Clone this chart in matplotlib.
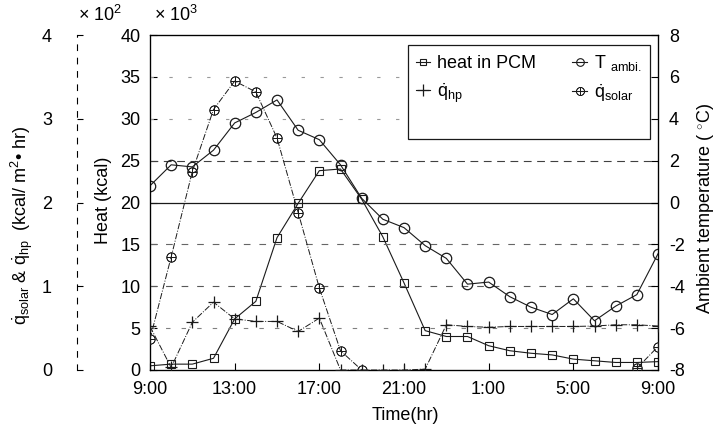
import numpy as np
import matplotlib
matplotlib.use('Agg')
import matplotlib.pyplot as plt
from matplotlib.lines import Line2D

plt.rcParams['font.family'] = ['Liberation Sans', 'DejaVu Sans']
plt.rcParams['mathtext.fontset'] = 'custom'
plt.rcParams['mathtext.rm'] = 'Liberation Sans'
plt.rcParams['mathtext.it'] = 'Liberation Sans:italic'
plt.rcParams['axes.unicode_minus'] = False
plt.rcParams['font.size'] = 13

#%% data, hourly from 9:00 to 9:00 the next day
clock = [9, 10, 11, 12, 13, 14, 15, 16, 17, 18, 19, 20, 21, 22, 23,
         0, 1, 2, 3, 4, 5, 6, 7, 8, 9]
elapsed = [(c - 9) % 24 for c in clock]
elapsed[-1] = 24

# ambient temperature (C)
t_ambi = [0.8, 1.8, 1.7, 2.5, 3.8, 4.3, 4.9, 3.45, 3.0, 1.8, 0.2, -0.8, -1.2,
          -2.06, -2.67, -3.9, -3.8, -4.5, -5.0, -5.35, -4.6, -5.65, -4.95, -4.4, -2.45]
# heat in PCM (x 10^3 kcal)
heat_pcm = [0.5, 0.7, 0.7, 1.4, 6.1, 8.2, 15.8, 19.9, 23.8, 24.0, 20.4, 15.9, 10.4,
            4.7, 4.0, 4.0, 2.9, 2.3, 2.0, 1.8, 1.3, 1.1, 0.9, 0.9, 1.0]
# heat pump heat rate (x 10^2 kcal/m2 hr)
q_hp = [0.52, 0.03, 0.57, 0.81, 0.61, 0.58, 0.58, 0.46, 0.62, 0.0, 0.0, 0.0, 0.0,
        0.01, 0.54, 0.52, 0.51, 0.52, 0.52, 0.52, 0.52, 0.525, 0.54, 0.54, 0.525]
# solar heat rate (x 10^2 kcal/m2 hr), none at night
q_solar = [0.37, 1.35, 2.37, 3.11, 3.45, 3.32, 2.77, 1.88, 0.98, 0.23, 0.0, np.nan, np.nan,
           np.nan, np.nan, np.nan, np.nan, np.nan, np.nan, np.nan, np.nan, np.nan, np.nan, 0.02, 0.28]

xtick_pos = [0, 4, 8, 12, 16, 20, 24]
xtick_lab = ['9:00', '13:00', '17:00', '21:00', '1:00', '5:00', '9:00']

#%% figure
fig = plt.figure(figsize=(7.19, 4.38), dpi=100)
ax = fig.add_axes([150/719, 1-370/438, 508/719, 335/438])
ax_r = ax.twinx()
ax_q = ax.twinx()

k = '0.1'
ax.set_xlim(0, 24)
ax.set_ylim(0, 40)
ax_r.set_ylim(-8, 8)
ax_q.set_ylim(0, 4)

# grid lines on temperature scale
for tv, ls, c in [(6, (0, (3, 14)), '0.6'), (4, (0, (3, 14)), '0.6'), (2, (0, (7, 5)), '0.25'),
                  (-2, (0, (6, 8)), '0.4'), (-4, (0, (6, 8)), '0.35'), (-6, (0, (4, 10)), '0.5')]:
    ax_r.axhline(tv, color=c, lw=0.8, ls=ls, zorder=1)
ax_r.axhline(0, color=k, lw=0.9, zorder=1)

ax.plot(elapsed, heat_pcm, color=k, lw=0.8, marker='s', ms=6, mfc='none', mec=k, mew=0.8)
ax_r.plot(elapsed, t_ambi, color=k, lw=0.8, marker='o', ms=7.5, mfc='none', mec=k, mew=0.9)
ax_q.plot(elapsed, q_hp, color=k, lw=0.7, ls='-.', marker='+', ms=9, mew=0.9)
ax_q.plot(elapsed, q_solar, color=k, lw=0.7, ls='-.', marker=r'$\oplus$', ms=7, mew=0.4)

# axes styling
ax.set_xticks(xtick_pos)
ax.set_xticklabels(xtick_lab)
ax.set_yticks(np.arange(0, 41, 5))
ax.tick_params(axis='both', direction='in', length=5, width=0.8, pad=7)
ax.tick_params(axis='x', pad=8)
ax_r.set_yticks(np.arange(-8, 9, 2))
ax_r.tick_params(axis='y', direction='in', length=5, width=0.8, pad=8)
for sp in ax.spines.values():
    sp.set_linewidth(0.9)

ax_q.yaxis.set_ticks_position('left')
ax_q.yaxis.set_label_position('left')
ax_q.spines['left'].set_position(('axes', -73/508))
ax_q.spines['left'].set_linestyle((0, (5, 7)))
ax_q.spines['left'].set_linewidth(0.8)
for s in ['right', 'top', 'bottom']:
    ax_q.spines[s].set_visible(False)
ax_q.set_yticks([0, 1, 2, 3, 4])
ax_q.tick_params(axis='y', direction='in', length=4, width=0.8, pad=18)

# labels
fig.text(405/719, 1-416/438, 'Time(hr)', ha='center', va='center')
fig.text(103/719, 1-200/438, 'Heat (kcal)', ha='center', va='center', rotation=90)
fig.text(22/719, 1-225/438,
         r'$\dot{\mathrm{q}}_{\mathrm{solar}}$ & $\dot{\mathrm{q}}_{\mathrm{hp}}$  (kcal/ m$^{2}$• hr)',
         ha='center', va='center', rotation=90)
fig.text(705/719, 1-209/438, r'Ambient temperature ( $^{\circ}$C)',
         ha='center', va='center', rotation=90)
fig.text(176/719, 1-15/438, r'× 10$^{3}$', ha='center', va='center')
fig.text(100/719, 1-15/438, r'× 10$^{2}$', ha='center', va='center')

# legend
h_pcm = Line2D([], [], color=k, lw=0.8, marker='s', ms=5, mfc='none', mec=k, mew=0.8)
h_T = Line2D([], [], color=k, lw=0.8, marker='o', ms=5.5, mfc='none', mec=k, mew=0.8)
h_hp = Line2D([], [], color=k, lw=0.8, marker='+', ms=8, mew=0.9)
h_sol = Line2D([], [], color=k, lw=0.8, marker=r'$\oplus$', ms=6, mew=0.4)
blank = Line2D([], [], color='none')
leg = ax_q.legend([h_pcm, h_hp, blank, h_T, h_sol, blank],
                  ['heat in PCM', r'$\dot{\mathrm{q}}_{\mathrm{hp}}$', ' ',
                   r'T $_{\mathrm{ambi.}}$', r'$\dot{\mathrm{q}}_{\mathrm{solar}}$', ' '],
                  ncol=2, loc='upper right', bbox_to_anchor=(650/719, 1-45/438),
                  bbox_transform=fig.transFigure, borderaxespad=0,
                  handlelength=0.8, handletextpad=0.4,
                  columnspacing=2.0, labelspacing=0.5, borderpad=0.45,
                  fancybox=False, framealpha=1, edgecolor=k, fontsize=13)
leg.get_frame().set_linewidth(0.9)

fig.savefig('out.png', dpi=100)
